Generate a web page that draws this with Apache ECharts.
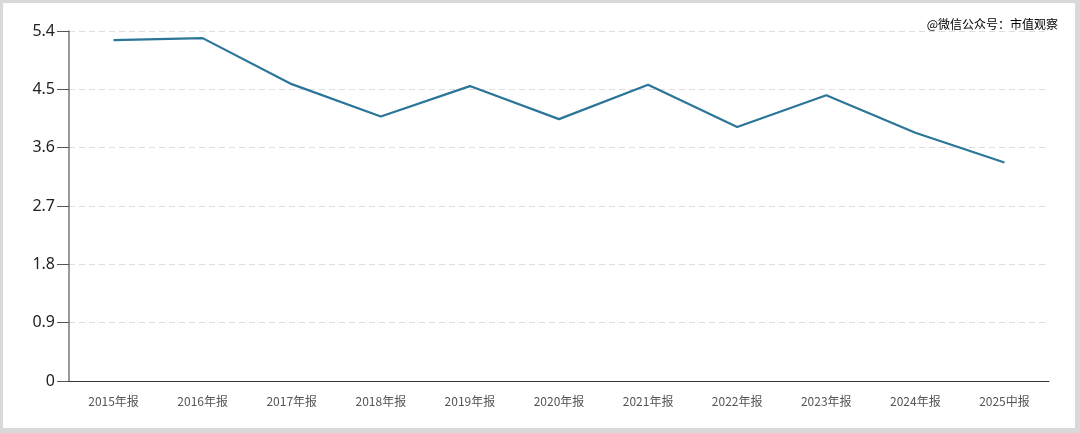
<!DOCTYPE html>
<html><head><meta charset="utf-8">
<script src="https://cdn.jsdelivr.net/npm/echarts@6/dist/echarts.min.js"></script>
<style>
html,body{margin:0;padding:0;width:1080px;height:433px;background:#d9d9d9;overflow:hidden;}
#c{position:absolute;left:3px;top:3px;width:1072px;height:425px;background:#fff;}
</style></head>
<body><div id="c"></div>
<script>
const categories = ['2015年报','2016年报','2017年报','2018年报','2019年报','2020年报','2021年报','2022年报','2023年报','2024年报','2025中报'];
const values = [5.26, 5.29, 4.58, 4.08, 4.55, 4.04, 4.57, 3.92, 4.41, 3.83, 3.37];
const watermark = '@微信公众号：市值观察';

const chart = echarts.init(document.getElementById('c'), null, {renderer:'canvas'});
chart.setOption({
  animation:false,
  title:{text:watermark, right:12, top:10, textStyle:{fontSize:12, fontWeight:'normal', color:'#000', fontFamily:'Noto Sans CJK SC'}},
  grid:{left:66, top:28, width:980, height:350, containLabel:false},
  xAxis:{type:'category', data:categories, boundaryGap:true,
    axisLine:{lineStyle:{color:'#333', width:1}},
    axisTick:{alignWithLabel:true, length:12, lineStyle:{color:'#444'}},
    axisLabel:{fontSize:12, color:'#555', margin:14, fontFamily:'Noto Sans CJK SC'},
    splitLine:{show:false}},
  yAxis:{type:'value', min:0, max:5.4, interval:0.9,
    axisLine:{show:true, lineStyle:{color:'#777', width:1.5}},
    axisTick:{show:true, length:12, lineStyle:{color:'#555'}},
    axisLabel:{fontSize:16, color:'#222', margin:14, fontFamily:'Noto Sans', formatter:v=>String(+v.toFixed(1))},
    splitLine:{show:true, lineStyle:{type:[6,4], color:'#dedede', width:1}}},
  series:[{type:'line', data:values, symbol:'none', lineStyle:{color:'#2a7598', width:2.2}, itemStyle:{color:'#2a7598'}}]
});
</script></body></html>
